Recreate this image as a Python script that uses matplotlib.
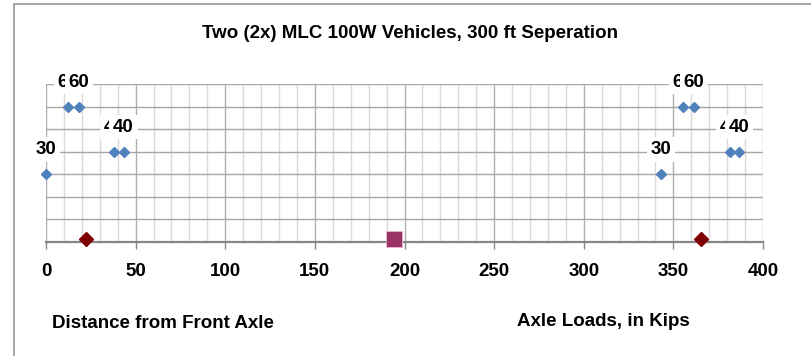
import matplotlib.pyplot as plt
from matplotlib.lines import Line2D
from matplotlib.ticker import MultipleLocator
import numpy as np

plt.rcParams['font.family'] = ['Liberation Sans', 'DejaVu Sans']
plt.rcParams['font.weight'] = 'bold'

# axle positions (ft from front axle of first vehicle) and axle loads (kips)
axle_x = [0, 12.1, 18.3, 38.1, 43.3, 343.3, 355.4, 361.6, 381.4, 386.6]
axle_loads = [30, 60, 60, 40, 40, 30, 60, 60, 40, 40]

# centre of gravity of each vehicle, and of the pair
cg_x = [22.3, 365.6]
cg_y = [0.1, 0.1]
pair_cg_x = [193.9]
pair_cg_y = [0.1]

title = 'Two (2x) MLC 100W Vehicles, 300 ft Seperation'

W, H = 811, 356
fig = plt.figure(figsize=(W / 100, H / 100), dpi=100)
ax = fig.add_axes([46 / W, (H - 241.5) / H, (763 - 46) / W, (241.5 - 84) / H])

# loads are plotted at one tenth of their value
axle_y = np.array(axle_loads) / 10

ax.plot(axle_x, axle_y, 'D', color='#4f81bd', ms=5.6, mec='#4f81bd', zorder=5, clip_on=False)
ax.plot(cg_x, cg_y, 'D', color='#7f0000', ms=7.6, mec='#7f0000', zorder=5, clip_on=False)
ax.plot(pair_cg_x, pair_cg_y, 's', color='#993366', ms=11.5, mec='#e8b8cc', mew=0.6,
        zorder=6, clip_on=False)

fs = 13.5
for x, y, load in zip(axle_x, axle_y, axle_loads):
    ax.annotate(str(load), (x, y), xytext=(0, 17.5), textcoords='offset points',
                ha='center', va='center', fontsize=fs, fontweight='bold',
                bbox=dict(boxstyle='square,pad=0.2', fc='white', ec='none'),
                zorder=7, annotation_clip=False)

ax.set_xlim(0, 400)
ax.set_ylim(0, 7)
ax.xaxis.set_major_locator(MultipleLocator(50))
ax.xaxis.set_minor_locator(MultipleLocator(10))
ax.yaxis.set_major_locator(MultipleLocator(1))

# gridlines: light every 10 ft, darker every 50 ft, horizontal every unit
ax.grid(which='minor', axis='x', color='#d9d9d9', lw=1.0)
ax.grid(which='major', axis='x', color='#b0b0b0', lw=1.0)
ax.grid(which='major', axis='y', color='#a6a6a6', lw=1.0)
ax.set_axisbelow(True)

for side in ['top', 'right', 'left']:
    ax.spines[side].set_visible(False)
ax.spines['bottom'].set_color('#868686')
ax.spines['bottom'].set_linewidth(1.6)

ax.tick_params(axis='x', which='major', direction='out', length=5, width=1,
               color='#868686', labelsize=fs, pad=10.5)
ax.tick_params(axis='x', which='minor', length=0)
ax.tick_params(axis='y', which='both', length=0, labelleft=False)
for lbl in ax.get_xticklabels():
    lbl.set_fontweight('bold')

fig.text(410 / W, 1 - 33 / H, title, ha='center', va='center', fontsize=fs, fontweight='bold')
fig.text(52 / W, 1 - 323 / H, 'Distance from Front Axle', ha='left', va='center',
         fontsize=fs, fontweight='bold')
fig.text(517 / W, 1 - 322 / H, 'Axle Loads, in Kips', ha='left', va='center',
         fontsize=fs, fontweight='bold')

# chart area border (top and left edges)
fig.add_artist(Line2D([14 / W, 14 / W], [0, 1 - 4 / H], color='#a0a0a0', lw=1.3,
                      transform=fig.transFigure))
fig.add_artist(Line2D([14 / W, 1], [1 - 4 / H, 1 - 4 / H], color='#a0a0a0', lw=1.3,
                      transform=fig.transFigure))

fig.savefig('out.png', dpi=100)
